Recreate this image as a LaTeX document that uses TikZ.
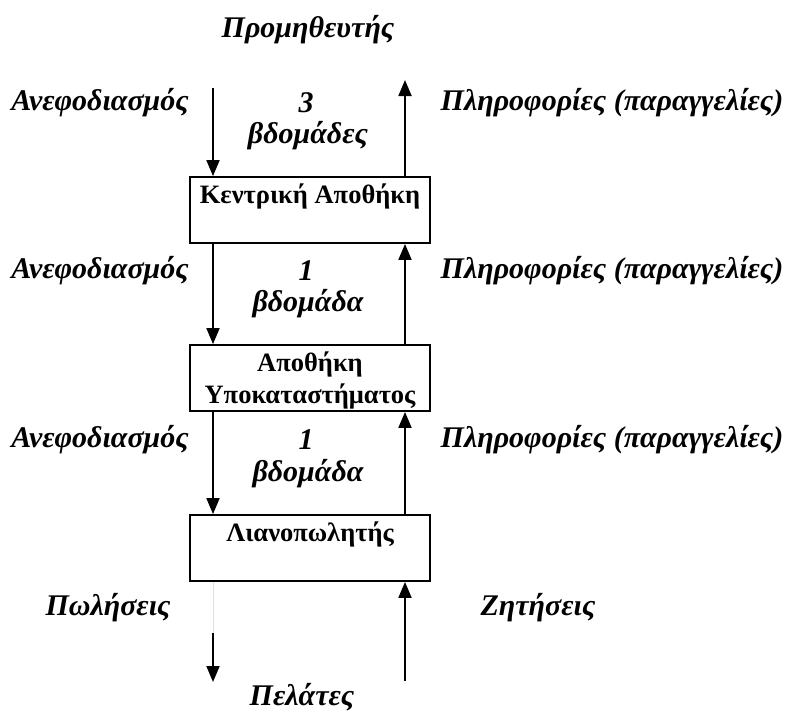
\documentclass[tikz,border=0pt]{standalone}
\usepackage{fontspec}
\setmainfont{Liberation Serif}
\usetikzlibrary{arrows.meta}
\begin{document}
\begin{tikzpicture}[x=1pt,y=-1pt,
  lbl/.style={font=\fontsize{30}{34}\selectfont\bfseries\itshape, inner sep=0pt},
  boxtxt/.style={font=\fontsize{26.5}{32}\selectfont\bfseries, inner sep=0pt, align=center},
  stage/.style={draw, line width=1.8pt, minimum width=240pt, minimum height=66pt, inner sep=0pt},
  flow/.style={line width=1.8pt, -{Triangle[length=16pt,width=13pt]}}
]
\useasboundingbox (0,0) rectangle (790,713);

% boxes
\node[stage] (b1) at (310,210) {};
\node[stage] (b2) at (310,378) {};
\node[stage] (b3) at (310,548) {};
\node[boxtxt] (t1) at (310,196) {Κεντρική Αποθήκη};
\node[boxtxt] (t2) at (310,380) {Αποθήκη\\Υποκαταστήματος};
\node[boxtxt] (t3) at (310,534) {Λιανοπωλητής};

% top
\node[lbl] (sup) at (308,30) {Προμηθευτής};
\coordinate (s1) at (213,88);
\coordinate (r1) at (405,80);
\draw[flow] (s1) -- (s1 |- b1.north);
\draw[flow] (r1 |- b1.north) -- (r1);

% row 1 labels
\node[lbl] (a1) at (100,103) {Ανεφοδιασμός};
\node[lbl] (n1) at (306,103) {3};
\node[lbl] (w1) at (308,136) {βδομάδες};
\node[lbl] (p1) at (612,103) {Πληροφορίες (παραγγελίες)};

% row 2
\draw[flow] (s1 |- b1.south) -- (s1 |- b2.north);
\draw[flow] (r1 |- b2.north) -- (r1 |- b1.south);
\node[lbl] (a2) at (100,271) {Ανεφοδιασμός};
\node[lbl] (n2) at (306,271) {1};
\node[lbl] (w2) at (308,304) {βδομάδα};
\node[lbl] (p2) at (612,271) {Πληροφορίες (παραγγελίες)};

% row 3
\draw[flow] (s1 |- b2.south) -- (s1 |- b3.north);
\draw[flow] (r1 |- b3.north) -- (r1 |- b2.south);
\node[lbl] (a3) at (100,440) {Ανεφοδιασμός};
\node[lbl] (n3) at (306,440) {1};
\node[lbl] (w3) at (308,474) {βδομάδα};
\node[lbl] (p3) at (612,440) {Πληροφορίες (παραγγελίες)};

% bottom
\coordinate (g1) at (213,633);
\coordinate (c1) at (213,682);
\coordinate (c2) at (405,681);
\draw[line width=0.8pt, black!12] (s1 |- b3.south) -- (g1);
\draw[flow] (g1) -- (c1);
\draw[flow] (c2) -- (r1 |- b3.south);
\node[lbl] (sl) at (108,608) {Πωλήσεις};
\node[lbl] (dm) at (538,608) {Ζητήσεις};
\node[lbl] (cu) at (302,697) {Πελάτες};
\end{tikzpicture}
\end{document}
